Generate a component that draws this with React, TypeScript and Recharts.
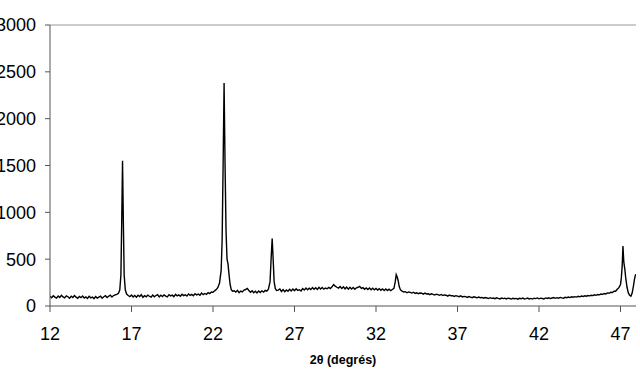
import React from "react";
import { LineChart, Line, XAxis, YAxis, ReferenceLine } from "recharts";

// 2θ (degrees) vs counts
const region12to17: [number, number][] = [
  [12.0, 104], [12.1, 88], [12.2, 110], [12.3, 95], [12.4, 84], [12.5, 106], [12.6, 92], [12.7, 115],
  [12.8, 97], [12.9, 86], [13.0, 108], [13.1, 99], [13.2, 83], [13.3, 104], [13.4, 91], [13.5, 112],
  [13.6, 94], [13.7, 82], [13.8, 101], [13.9, 89], [14.0, 107], [14.1, 85], [14.2, 98], [14.3, 80],
  [14.4, 103], [14.5, 87], [14.6, 96], [14.7, 79], [14.8, 100], [14.9, 84], [15.0, 95], [15.1, 106],
  [15.2, 83], [15.3, 99], [15.4, 110], [15.5, 90], [15.6, 104], [15.7, 116], [15.8, 97], [15.9, 112],
  [16.0, 119], [16.1, 124], [16.2, 135], [16.28, 170], [16.35, 330], [16.4, 900], [16.45, 1550],
  [16.5, 900], [16.55, 330], [16.62, 170], [16.7, 128], [16.8, 112], [16.9, 100],
];

const region17to23: [number, number][] = [
  [17.0, 118], [17.1, 96], [17.2, 112], [17.3, 94], [17.4, 115], [17.5, 101], [17.6, 120], [17.7, 93],
  [17.8, 110], [17.9, 98], [18.0, 116], [18.1, 104], [18.2, 95], [18.3, 117], [18.4, 99], [18.5, 112],
  [18.6, 122], [18.7, 97], [18.8, 115], [18.9, 101], [19.0, 119], [19.1, 106], [19.2, 98], [19.3, 121],
  [19.4, 108], [19.5, 116], [19.6, 100], [19.7, 124], [19.8, 109], [19.9, 118], [20.0, 104], [20.1, 126],
  [20.2, 111], [20.3, 120], [20.4, 106], [20.5, 129], [20.6, 113], [20.7, 124], [20.8, 110], [20.9, 132],
  [21.0, 118], [21.1, 127], [21.2, 115], [21.3, 138], [21.4, 121], [21.5, 134], [21.6, 125], [21.7, 143],
  [21.8, 132], [21.9, 150], [22.0, 146], [22.1, 162], [22.2, 175], [22.3, 198], [22.4, 245], [22.5, 380],
  [22.56, 700], [22.62, 1500], [22.68, 2380], [22.74, 1500], [22.8, 800], [22.86, 500], [22.92, 450],
  [22.98, 340], [23.05, 230], [23.12, 175], [23.2, 158],
];

const region23to29: [number, number][] = [
  [23.3, 162], [23.4, 148], [23.5, 167], [23.6, 142], [23.7, 160], [23.8, 151], [23.9, 170], [24.0, 176],
  [24.1, 188], [24.2, 165], [24.3, 147], [24.4, 163], [24.5, 141], [24.6, 158], [24.7, 139], [24.8, 161],
  [24.9, 144], [25.0, 162], [25.1, 148], [25.2, 166], [25.3, 158], [25.4, 180], [25.5, 260], [25.57, 520],
  [25.63, 720], [25.69, 500], [25.75, 260], [25.82, 188], [25.9, 165], [26.0, 170], [26.1, 182], [26.2, 155],
  [26.3, 175], [26.4, 152], [26.5, 171], [26.6, 158], [26.7, 179], [26.8, 161], [26.9, 181], [27.0, 163],
  [27.1, 184], [27.2, 166], [27.3, 174], [27.4, 160], [27.5, 186], [27.6, 170], [27.7, 192], [27.8, 173],
  [27.9, 190], [28.0, 175], [28.1, 196], [28.2, 178], [28.3, 194], [28.4, 176], [28.5, 199], [28.6, 181],
  [28.7, 197], [28.8, 180], [28.9, 192],
];

const region29to35: [number, number][] = [
  [29.0, 184], [29.1, 198], [29.2, 186], [29.3, 205], [29.4, 228], [29.5, 212], [29.6, 200], [29.7, 191],
  [29.8, 208], [29.9, 187], [30.0, 204], [30.1, 183], [30.2, 201], [30.3, 180], [30.4, 199], [30.5, 182],
  [30.6, 197], [30.7, 178], [30.8, 194], [30.9, 200], [31.0, 209], [31.1, 188], [31.2, 196], [31.3, 178],
  [31.4, 193], [31.5, 176], [31.6, 192], [31.7, 174], [31.8, 190], [31.9, 172], [32.0, 187], [32.1, 170],
  [32.2, 185], [32.3, 168], [32.4, 183], [32.5, 166], [32.6, 181], [32.7, 165], [32.8, 179], [32.9, 164],
  [33.0, 176], [33.1, 188], [33.18, 260], [33.24, 335], [33.3, 310], [33.36, 270], [33.42, 210], [33.5, 172],
  [33.6, 158], [33.7, 149], [33.8, 153], [33.9, 141], [34.0, 150], [34.1, 146], [34.2, 138], [34.3, 147],
  [34.4, 135], [34.5, 141], [34.6, 132], [34.7, 138], [34.8, 136], [34.9, 126],
];

const region35to41: [number, number][] = [
  [35.0, 137], [35.1, 129], [35.2, 131], [35.3, 121], [35.4, 130], [35.5, 125], [35.6, 117], [35.7, 126],
  [35.8, 122], [35.9, 114], [36.0, 123], [36.1, 112], [36.2, 118], [36.3, 115], [36.4, 106], [36.5, 117],
  [36.6, 109], [36.7, 111], [36.8, 102], [36.9, 110], [37.0, 106], [37.1, 99], [37.2, 108], [37.3, 97],
  [37.4, 103], [37.5, 100], [37.6, 92], [37.7, 101], [37.8, 95], [37.9, 89], [38.0, 98], [38.1, 93],
  [38.2, 87], [38.3, 95], [38.4, 88], [38.5, 91], [38.6, 83], [38.7, 90], [38.8, 86], [38.9, 80],
  [39.0, 89], [39.1, 82], [39.2, 85], [39.3, 78], [39.4, 87], [39.5, 81], [39.6, 76], [39.7, 85],
  [39.8, 79], [39.9, 83], [40.0, 75], [40.1, 84], [40.2, 80], [40.3, 74], [40.4, 83], [40.5, 78],
  [40.6, 81], [40.7, 73], [40.8, 82], [40.9, 77],
];

const region41to48: [number, number][] = [
  [41.0, 84], [41.1, 75], [41.2, 79], [41.3, 85], [41.4, 76], [41.5, 81], [41.6, 74], [41.7, 83],
  [41.8, 79], [41.9, 86], [42.0, 77], [42.1, 84], [42.2, 80], [42.3, 75], [42.4, 86], [42.5, 81],
  [42.6, 88], [42.7, 79], [42.8, 85], [42.9, 90], [43.0, 82], [43.1, 89], [43.2, 84], [43.3, 92],
  [43.4, 87], [43.5, 83], [43.6, 93], [43.7, 89], [43.8, 96], [43.9, 90], [44.0, 98], [44.1, 94],
  [44.2, 100], [44.3, 95], [44.4, 103], [44.5, 98], [44.6, 106], [44.7, 101], [44.8, 109], [44.9, 104],
  [45.0, 112], [45.1, 108], [45.2, 115], [45.3, 111], [45.4, 120], [45.5, 114], [45.6, 123], [45.7, 119],
  [45.8, 128], [45.9, 124], [46.0, 133], [46.1, 129], [46.2, 140], [46.3, 136], [46.4, 147], [46.5, 144],
  [46.6, 158], [46.7, 157], [46.8, 178], [46.9, 196], [47.0, 230], [47.05, 300], [47.1, 420], [47.15, 640],
  [47.2, 470], [47.26, 400], [47.32, 300], [47.4, 200], [47.48, 140], [47.56, 115], [47.64, 105],
  [47.71, 135], [47.78, 200], [47.86, 290], [47.93, 340],
];

const xTicks = [12, 17, 22, 27, 32, 37, 42, 47];
const yTicks = [0, 500, 1000, 1500, 2000, 2500, 3000];
const xTitle = "2θ (degrés)";

const data = [
  ...region12to17,
  ...region17to23,
  ...region23to29,
  ...region29to35,
  ...region35to41,
  ...region41to48,
].map(([angle, counts]) => ({ angle, counts }));

const FONT = "'Liberation Sans', Arial, Helvetica, sans-serif";

export default function App() {
  return (
    <div style={{ position: "absolute", left: 0, top: 0, width: 640, height: 370, background: "#fff", fontFamily: FONT }}>
      <LineChart
        width={640}
        height={370}
        data={data}
        margin={{ top: 25, right: 4, bottom: 4, left: 0 }}
      >
        <XAxis
          dataKey="angle"
          type="number"
          domain={[12, 47.95]}
          ticks={xTicks}
          allowDataOverflow
          interval={0}
          stroke="#555"
          tickSize={6}
          tickMargin={15}
          height={60}
          tick={{ fill: "#000", fontSize: 18, fontFamily: FONT }}
          label={{
            value: xTitle,
            position: "insideBottom",
            offset: 2,
            style: { fontSize: 12.5, fontWeight: "bold", fill: "#000", fontFamily: FONT },
          }}
        />
        <YAxis
          type="number"
          domain={[0, 3000]}
          ticks={yTicks}
          interval={0}
          width={50}
          stroke="#555"
          tickSize={5}
          tickMargin={9}
          tick={{ fill: "#000", fontSize: 18, fontFamily: FONT }}
        />
        <ReferenceLine y={3000} stroke="#999" strokeWidth={1} />
        <Line
          type="linear"
          dataKey="counts"
          stroke="#000"
          strokeWidth={1.4}
          dot={false}
          isAnimationActive={false}
        />
      </LineChart>
    </div>
  );
}
